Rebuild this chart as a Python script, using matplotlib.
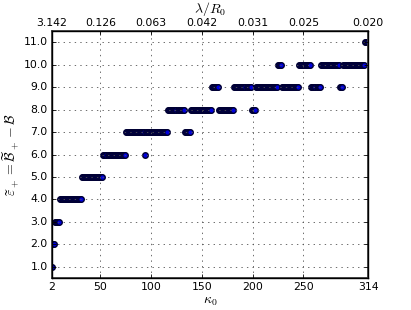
import matplotlib
matplotlib.use("Agg")
import matplotlib.pyplot as plt
import numpy as np

# Step data: (first kappa, last kappa, level)
seg_start = [2, 3, 5, 10, 32, 53, 75, 94, 95, 117, 133, 139, 160, 167, 182, 199, 203, 225, 229, 246, 258, 267, 286, 289, 311]
seg_end   = [2, 4, 9, 31, 52, 74, 93, 94, 116, 132, 138, 159, 166, 181, 198, 202, 224, 228, 245, 257, 266, 285, 288, 310, 314]
seg_level = [1, 2, 3, 4, 5, 6, 7, 6, 7, 8, 7, 8, 9, 8, 9, 8, 9, 10, 9, 10, 9, 10, 9, 10, 11]

bottom_ticks = [2, 50, 100, 150, 200, 250, 314]
top_labels = ['3.142', '0.126', '0.063', '0.042', '0.031', '0.025', '0.020']
y_ticks = [1, 2, 3, 4, 5, 6, 7, 8, 9, 10, 11]

kappa = []
level = []
for s, e, l in zip(seg_start, seg_end, seg_level):
    for k in range(s, e + 1):
        kappa.append(k)
        level.append(l)

plt.style.use('classic')
plt.rcParams['mathtext.fontset'] = 'cm'
plt.rcParams['font.family'] = ['DejaVu Sans']

fig = plt.figure(figsize=(4.11, 3.10), dpi=100, facecolor='white')
ax = fig.add_axes([0.1258, 0.103, 0.7702, 0.797])
ax.plot(kappa, level, 'o', color='#0000dd', markeredgecolor='#000033',
        markersize=4.0, markeredgewidth=1.0, linestyle='none')
ax.set_xlim(2, 314)
ax.set_ylim(0.5, 11.5)
ax.set_xticks(bottom_ticks)
ax.set_xticklabels([str(t) for t in bottom_ticks], fontsize=7.8)
ax.set_yticks(y_ticks)
ax.set_yticklabels(['%.1f' % v for v in y_ticks], fontsize=7.8)
ax.grid(True, linestyle=':', color='#555555', linewidth=0.6)
ax.tick_params(direction='in', length=3, width=0.6, top=False, right=True, pad=3)
for sp in ax.spines.values():
    sp.set_linewidth(1.3)
    sp.set_color('#444444')
ax.set_xlabel(r'$\kappa_0$', fontsize=10, labelpad=1)
ax.set_ylabel(r'$\widetilde{\varepsilon}_+ = \widetilde{\mathcal{B}}_+ - \mathcal{B}$', fontsize=10, labelpad=2)

ax2 = ax.twiny()
ax2.set_xlim(ax.get_xlim())
ax2.set_xticks(bottom_ticks)
ax2.set_xticklabels(top_labels, fontsize=7.8)
ax2.tick_params(direction='in', length=3, width=0.6, pad=2)
ax2.set_xlabel(r'$\lambda/R_0$', fontsize=10, labelpad=4)

fig.savefig('out.png', dpi=100, facecolor='white')
